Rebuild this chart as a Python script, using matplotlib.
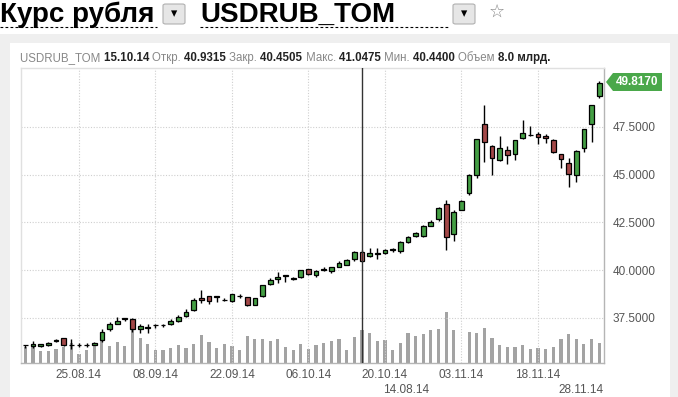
import matplotlib
matplotlib.use("Agg")
import matplotlib.pyplot as plt
from matplotlib.patches import Rectangle, Polygon, FancyBboxPatch
from matplotlib.lines import Line2D

plt.rcParams["font.family"] = ["Liberation Sans", "DejaVu Sans"]

# daily candles USDRUB_TOM, 14.08.14 .. 28.11.14 (trading days)
opens = [36.05, 36.03, 36.00, 36.05, 36.30, 36.43, 36.08, 36.07, 36.07, 36.07,
         36.32, 36.89, 37.19, 37.45, 37.43, 36.89, 36.98, 37.12, 37.12, 37.17,
         37.34, 37.61, 37.90, 38.53, 38.62, 38.61, 38.43, 38.38, 38.64, 38.57,
         38.17, 38.65, 39.28, 39.51, 39.71, 39.55, 39.63, 40.05, 39.72, 40.02,
         39.93, 40.17, 40.28, 40.56, 40.9315, 40.72, 40.85, 40.87, 41.07, 40.98,
         41.45, 41.80, 41.77, 42.32, 42.67, 43.46, 41.88, 43.16, 44.04, 44.96,
         47.63, 46.50, 45.78, 46.27, 46.10, 46.90, 47.08, 47.11, 47.02, 46.81,
         46.06, 45.59, 44.96, 46.38, 47.63, 49.10]
highs = [36.08, 36.27, 36.12, 36.22, 36.38, 36.45, 36.38, 36.18, 36.16, 36.22,
         36.93, 37.28, 37.54, 37.50, 37.47, 37.16, 37.15, 37.15, 37.15, 37.43,
         37.64, 37.96, 38.52, 38.93, 38.63, 38.63, 38.55, 38.77, 38.77, 38.61,
         38.55, 39.23, 39.60, 39.90, 39.73, 39.63, 40.02, 40.08, 39.98, 40.14,
         40.17, 40.49, 40.57, 41.00, 41.0475, 41.14, 41.14, 41.08, 41.14, 41.50,
         41.80, 42.01, 42.34, 42.60, 43.28, 43.67, 43.14, 43.65, 45.02, 46.88,
         48.65, 46.53, 47.04, 46.51, 46.83, 47.84, 47.53, 47.25, 47.13, 46.85,
         46.10, 45.85, 46.28, 47.40, 48.66, 49.91]
lows = [35.90, 35.93, 35.98, 36.03, 36.22, 36.02, 35.87, 35.97, 35.98, 36.05,
        36.25, 36.82, 37.15, 37.33, 36.77, 36.72, 36.72, 36.94, 37.01, 37.12,
        37.29, 37.56, 37.85, 38.25, 38.24, 38.34, 38.38, 38.34, 38.52, 38.11,
        38.15, 38.61, 39.21, 39.32, 39.39, 39.46, 39.60, 39.74, 39.65, 39.94,
        39.83, 40.14, 40.24, 40.49, 40.44, 40.66, 40.59, 40.82, 40.96, 40.92,
        41.40, 41.75, 41.75, 42.29, 42.57, 41.05, 41.54, 43.13, 43.93, 44.80,
        45.68, 44.98, 45.71, 45.54, 45.78, 46.85, 47.04, 46.59, 46.68, 46.13,
        45.33, 44.33, 44.63, 46.21, 46.69, 49.00]
closes = [36.07, 36.15, 36.10, 36.20, 36.32, 36.08, 36.07, 36.08, 36.08, 36.20,
          36.78, 37.17, 37.33, 37.47, 36.89, 37.07, 37.00, 37.14, 37.14, 37.34,
          37.54, 37.78, 38.41, 38.41, 38.38, 38.62, 38.45, 38.72, 38.66, 38.17,
          38.52, 39.20, 39.48, 39.62, 39.72, 39.57, 39.98, 39.77, 39.93, 40.04,
          40.14, 40.37, 40.52, 40.93, 40.4505, 40.87, 40.87, 41.05, 41.09, 41.45,
          41.73, 41.94, 42.29, 42.50, 43.23, 41.71, 43.04, 43.62, 44.98, 46.85,
          46.69, 45.85, 46.38, 46.01, 46.80, 47.16, 47.10, 46.95, 46.90, 46.17,
          45.80, 45.05, 46.25, 47.37, 48.63, 49.817]
# volume, billions
volumes = [3.9, 4.6, 2.9, 2.9, 3.4, 3.9, 4.8, 2.2, 3.2, 4.1,
           5.4, 4.1, 5.1, 4.1, 8.2, 6.1, 4.6, 3.2, 3.2, 3.6,
           4.4, 3.6, 4.6, 6.8, 5.1, 3.6, 4.6, 4.1, 3.2, 6.5,
           5.8, 5.8, 5.3, 5.8, 3.9, 3.2, 4.6, 3.4, 4.4, 4.8,
           5.3, 5.8, 3.2, 6.3, 8.0, 7.3, 5.3, 5.6, 3.2, 4.8,
           7.3, 6.5, 7.0, 8.0, 8.2, 12.4, 8.0, 0.0, 7.5, 7.3,
           8.5, 6.1, 4.4, 3.9, 3.9, 4.4, 3.4, 3.6, 3.4, 3.9,
           5.8, 7.0, 5.8, 4.6, 5.8, 4.8]

tick_pos = [7, 17, 27, 37, 47, 57, 67]
tick_labels = ["25.08.14", "08.09.14", "22.09.14", "06.10.14",
               "20.10.14", "03.11.14", "18.11.14"]
y_ticks = [37.5, 40.0, 42.5, 45.0, 47.5]
cursor_idx = 44

W, H = 678, 397


def fx(x):
    return x / W


def fy(y):
    return 1 - y / H


fig = plt.figure(figsize=(W / 100, H / 100), dpi=100, facecolor="#efefef")

# white header and white chart panel
fig.patches.append(Rectangle((0, fy(34)), 1, 34 / H, transform=fig.transFigure,
                             fc="white", ec="none", zorder=0))
fig.patches.append(Rectangle((fx(10), 0), fx(660), fy(43), transform=fig.transFigure,
                             fc="white", ec="none", zorder=0))

# header
fig.text(fx(0), fy(22), "Курс рубля", fontsize=20, fontweight="bold", va="baseline")
fig.text(fx(200), fy(22), "USDRUB_TOM", fontsize=20, fontweight="bold", va="baseline")
for x0, x1 in [(0, 157), (200, 448)]:
    fig.lines.append(Line2D([fx(x0), fx(x1)], [fy(27), fy(27)], transform=fig.transFigure,
                            color="black", lw=0.8, ls=(0, (2.5, 2))))
for bx in [163, 453]:
    fig.patches.append(FancyBboxPatch((fx(bx), fy(24)), fx(22), 20 / H,
                                      boxstyle="round,pad=0,rounding_size=0.004",
                                      transform=fig.transFigure, fc="#e6e6e6", ec="#b0b0b0", lw=0.8))
    fig.text(fx(bx + 11), fy(14), "▾", ha="center", va="center", fontsize=9,
             family=["DejaVu Sans"])
fig.text(fx(497), fy(12), "☆", ha="center", va="center", fontsize=13, color="#888888",
         family=["DejaVu Sans"])

# info line
info = [("USDRUB_TOM ", "#888888", "normal"), ("15.10.14 ", "#222222", "bold"),
        ("Откр. ", "#888888", "normal"), ("40.9315 ", "#222222", "bold"),
        ("Закр. ", "#888888", "normal"), ("40.4505 ", "#222222", "bold"),
        ("Макс. ", "#888888", "normal"), ("41.0475 ", "#222222", "bold"),
        ("Мин. ", "#888888", "normal"), ("40.4400 ", "#222222", "bold"),
        ("Объем ", "#888888", "normal"), ("8.0 млрд.", "#222222", "bold")]
renderer = fig.canvas.get_renderer()
xpos = 20
for s, c, w in info:
    t = fig.text(fx(xpos), fy(58), s, fontsize=8.3, color=c, fontweight=w, va="center")
    xpos += t.get_window_extent(renderer).width

# main axes
ax = fig.add_axes([fx(20.7), fy(363), fx(604) - fx(20.7), fy(68) - fy(363)])
ax.set_xlim(-0.61, 75.63)
ax.set_ylim(35.13, 50.59)
ax.set_zorder(2)
ax.patch.set_alpha(0)

ax2 = fig.add_axes(ax.get_position())
ax2.set_zorder(1)
ax2.set_xlim(ax.get_xlim())
ax2.set_ylim(0, 71.5)
ax2.axis("off")
idx = list(range(len(closes)))
ax2.bar(idx, volumes, width=0.42, color="#a3a3a3", align="center")

for i in idx:
    o, h, l, c = opens[i], highs[i], lows[i], closes[i]
    col = "#449e44" if c >= o else "#a34848"
    if i == cursor_idx:
        col = "#c46464"
    ax.vlines(i, l, h, color="black", lw=1, zorder=3)
    body = max(abs(c - o), 0.02)
    ax.bar(i, body, bottom=min(o, c), width=0.62, color=col, edgecolor="black",
           lw=0.9, zorder=4)

ax.axvline(cursor_idx, color="#333333", lw=1, zorder=5)

ax.set_xticks(tick_pos)
ax.set_xticklabels(tick_labels)
ax.set_yticks(y_ticks)
ax.set_yticklabels([f"{v:.4f}" for v in y_ticks])
ax.yaxis.tick_right()
ax.tick_params(length=0, labelsize=8.5, labelcolor="#555555")
ax.tick_params(axis="y", pad=6)
ax.tick_params(axis="x", pad=4)
ax.grid(True, color="#cfcfcf", ls=(0, (1, 1.5)), lw=0.8)
for side, col in [("left", "#e0e0e0"), ("top", "#e0e0e0"),
                  ("right", "#b5b5b5"), ("bottom", "#b5b5b5")]:
    ax.spines[side].set_color(col)
    ax.spines[side].set_linewidth(1)

# last price tag
tag = Polygon([(fx(606), fy(82)), (fx(613), fy(73)), (fx(662), fy(73)),
               (fx(662), fy(91)), (fx(613), fy(91))], closed=True,
              transform=fig.transFigure, fc="#4aa84a", ec="none")
fig.patches.append(tag)
fig.text(fx(637.5), fy(82), f"{closes[-1]:.4f}", color="white", fontsize=8.5,
         fontweight="bold", ha="center", va="center")

# navigator dates at the bottom edge
fig.text(fx(406), fy(396), "14.08.14", fontsize=8.5, color="#555555", ha="center", va="bottom")
fig.text(fx(581), fy(396), "28.11.14", fontsize=8.5, color="#555555", ha="center", va="bottom")

fig.savefig("out.png", dpi=100, facecolor=fig.get_facecolor())
